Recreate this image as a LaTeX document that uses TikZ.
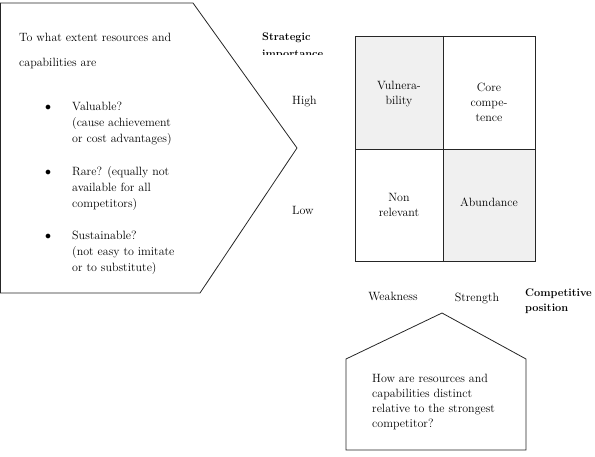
\documentclass[tikz,border=0pt]{standalone}
\begin{document}
\begin{tikzpicture}[x=1pt,y=-1pt,
  shp/.style={draw=black!85,line width=0.8pt},
  txt/.style={font=\fontsize{12}{14}\selectfont,inner sep=0pt},
  lbl/.style={font=\fontsize{12}{14}\selectfont,inner sep=0pt,anchor=base west},
  bld/.style={font=\fontsize{11}{13}\selectfont\bfseries,inner sep=0pt,anchor=base west},
  cell/.style={font=\fontsize{12}{15}\selectfont,align=center,inner sep=0pt}]
\useasboundingbox (0,0) rectangle (595,457);
% left pentagon
\draw[shp] (0.5,3) -- (193,3) -- (297,148) -- (200,293) -- (0.5,293) -- cycle;
\node[lbl] (t1) at (19,42) {To what extent resources and};
\node[lbl] (t2) at (19,67) {capabilities are};
\foreach \y/\s in {111/Valuable?,127/(cause achievement,143/or cost advantages),
  176/Rare? (equally not,192/available for all,208/competitors),
  240/Sustainable?,256/(not easy to imitate,272/or to substitute)}
  {\node[lbl] at (72,\y) {\s};}
\foreach \y in {111,176,240} {\node[lbl] at (45,\y) {$\bullet$};}
% strategic importance
\begin{scope}
\clip (250,0) rectangle (340,54.5);
\node[bld] (si1) at (262,41) {Strategic};
\node[bld] (si2) at (262,58) {importance};
\end{scope}
\node[lbl] (hi) at (292,105) {High};
\node[lbl] (lo) at (292,215) {Low};
% grid
\fill[black!6] (355,36) rectangle (443,149);
\fill[black!6] (443,149) rectangle (535,261);
\draw[shp] (355,36) rectangle (535,261);
\draw[shp] (443,36) -- (443,261);
\draw[shp] (355,149) -- (535,149);
\node[cell] (c1) at (399,94) {Vulnera-\\bility};
\node[cell] (c2) at (489,102) {Core\\compe-\\tence};
\node[cell] (c3) at (399,205) {Non\\relevant};
\node[cell] (c4) at (489,202) {Abundance};
% bottom labels
\node[txt,anchor=base] (wk) at (393,301) {Weakness};
\node[txt,anchor=base] (st) at (477,302) {Strength};
\node[bld] (cp1) at (525,297) {Competitive};
\node[bld] (cp2) at (525,312) {position};
% house
\draw[shp] (442,313) -- (526,359) -- (526,450) -- (346,450) -- (346,359) -- cycle;
\foreach \y/\s in {382/How are resources and,397/capabilities distinct,412/relative to the strongest,427/competitor?}
  {\node[lbl] at (372,\y) {\s};}
\end{tikzpicture}
\end{document}
